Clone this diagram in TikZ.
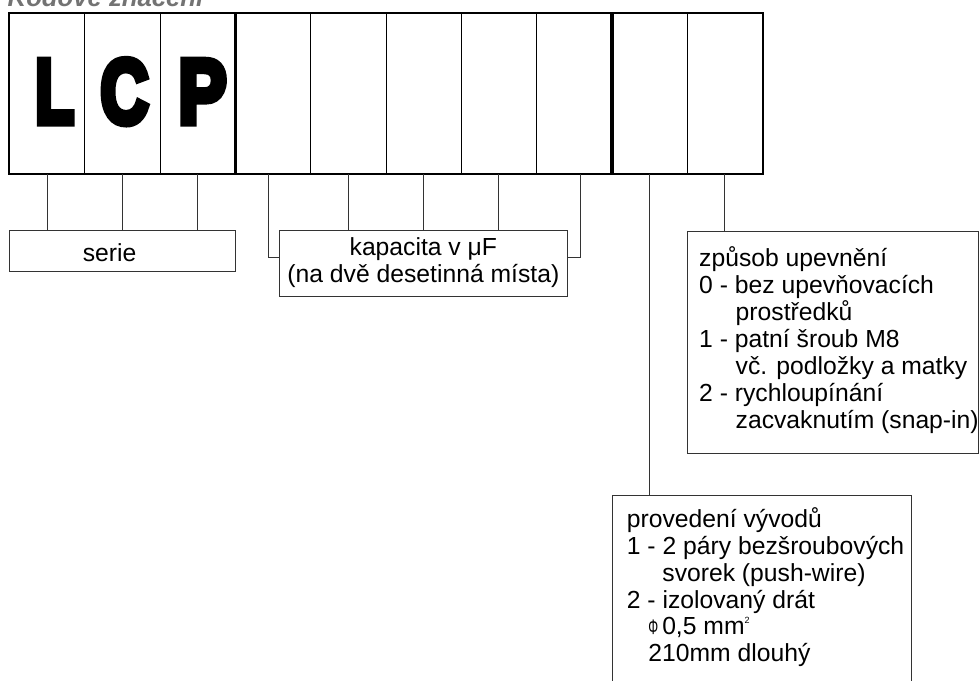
\documentclass[tikz,border=0pt]{standalone}
\usepackage{fontspec}
\setmainfont{Liberation Sans}
\newfontfamily\heavyfont[FakeBold=8]{Liberation Sans Bold}
\usetikzlibrary{calc}
\definecolor{headgray}{gray}{0.45}
\definecolor{linegray}{gray}{0.2}
\newcommand\txtfont{\fontsize{24.7}{27}\selectfont}
\newcommand\txtblock[2]{\begin{minipage}[t]{#1}\txtfont\lineskiplimit=-100pt\baselineskip=27pt\raggedright #2\end{minipage}}
\begin{document}
\begin{tikzpicture}[x=1pt,y=-1pt,
  cell/.style={draw, line width=0.8pt, minimum width=75.3pt, minimum height=160pt, inner sep=0pt, anchor=north west},
  thickframe/.style={draw, line width=2.6pt},
  letter/.style={anchor=base, inner sep=0pt, font=\heavyfont\fontsize{91}{91}\selectfont},
  box/.style={draw=linegray, line width=0.9pt, inner sep=0pt},
  conn/.style={draw=linegray, line width=0.9pt},
  lbl/.style={inner sep=0pt, font=\txtfont},
  txtnode/.style={anchor=base west, inner sep=0pt}]
\useasboundingbox (0,0) rectangle (979,680);
% heading (cut off at top)
\node[anchor=base west, inner sep=0pt, text=headgray, font=\bfseries\itshape\fontsize{25.7}{26}\selectfont] (head) at (7.5,6) {Kódové značení};
% cells
\foreach \i in {1,...,10} {
  \node[cell] (c\i) at ({9+75.3*(\i-1)},13) {};
}
\draw[thickframe] (c1.north west) rectangle (c3.south east);
\draw[thickframe] (c4.north west) rectangle (c8.south east);
\draw[thickframe] (c9.north west) rectangle (c10.south east);
% letters
\node[letter] (lL) at (54.5,123) {\scalebox{0.70}[1]{L}};
\node[letter] (lC) at (124.5,123) {\scalebox{0.73}[1]{C}};
\node[letter] (lP) at (202.5,123) {\scalebox{0.79}[1]{P}};
% serie
\node[box, minimum width=226.3pt, minimum height=40.3pt,
  label={[lbl, xshift=-12.5pt, yshift=-1.5pt]center:serie}] (serie) at (122.15,250.85) {};
\foreach \i in {1,2,3} \draw[conn] (c\i.south) -- (c\i.south |- serie.north);
% kapacita
\node[box, minimum width=288.7pt, minimum height=65.3pt,
  label={[lbl, align=center, yshift=0.5pt]center:{kapacita v μF\\(na dvě desetinná místa)}}] (kap) at (423.35,263.35) {};
\foreach \i in {5,6,7} \draw[conn] (c\i.south) -- (c\i.south |- kap.north);
\draw[conn] ([xshift=-4.25pt]c4.south) |- ([yshift=5.65pt]kap.west);
\draw[conn] ([xshift=6.75pt]c8.south) |- ([yshift=5.65pt]kap.east);
% zpusob upevneni
\node[box, anchor=north west, minimum width=290.8pt, minimum height=221.7pt] (zp) at (686.7,231) {};
\draw[conn] (c10.south) -- (c10.south |- zp.north);
\node[txtnode] (zptxt) at (699,266.5) {\txtblock{280pt}{%
způsob upevnění\\
0 - bez upevňovacích\\
\hspace*{36.5pt}prostředků\\
1 - patní šroub M8\\
\hspace*{36.5pt}vč. podložky a matky\\
2 - rychloupínání\\
\hspace*{36.5pt}zacvaknutím (snap-in)}};
% provedeni vyvodu
\node[box, anchor=north west, minimum width=298.4pt, minimum height=205pt] (pv) at (612.3,495) {};
\draw[conn] (c9.south) -- (c9.south |- pv.north);
\node[txtnode] (pvtxt) at (626.7,527.3) {\txtblock{280pt}{\baselineskip=26.9pt
provedení vývodů\\
1 - 2 páry bezšroubových\\
\hspace*{35.5pt}svorek (push-wire)\\
2 - izolovaný drát\\
\hspace*{21.5pt}\scalebox{0.5}[0.85]{Φ}\hspace{4pt}0,5 mm\raisebox{11pt}{\fontsize{9}{9}\selectfont 2}\\
\hspace*{21.5pt}210mm dlouhý}};
\end{tikzpicture}
\end{document}
